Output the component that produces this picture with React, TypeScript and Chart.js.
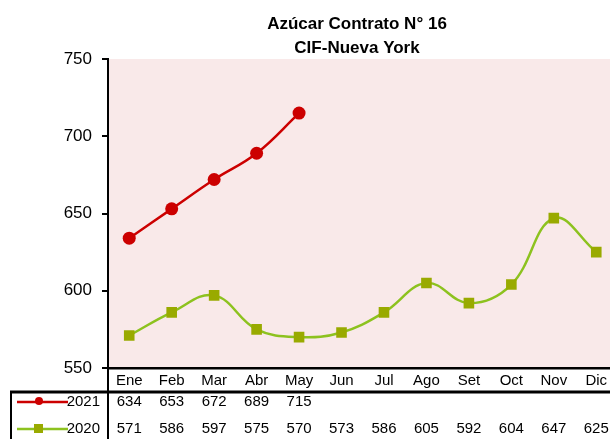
import React, { useEffect, useRef } from "react";
import { Chart, registerables } from "chart.js";

Chart.register(...registerables);

const TITLE_LINES = ["Azúcar Contrato N° 16", "CIF-Nueva York"];
const MONTHS = ["Ene", "Feb", "Mar", "Abr", "May", "Jun", "Jul", "Ago", "Set", "Oct", "Nov", "Dic"];
const SERIES_2021_LABEL = "2021";
const SERIES_2020_LABEL = "2020";
const VALUES_2021 = [634, 653, 672, 689, 715];
const VALUES_2020 = [571, 586, 597, 575, 570, 573, 586, 605, 592, 604, 647, 625];
const Y_MIN = 550;
const Y_MAX = 750;
const Y_STEP = 50;

const NARROW = '"Liberation Sans Narrow", "Arial Narrow", "Liberation Sans", Arial, sans-serif';
const RED = "#CC0000";
const GREEN_LINE = "#8DC21F";
const GREEN_MARK = "#99AA00";
const BG = "#F9E9E9";

export default function App() {
  const ref = useRef<HTMLCanvasElement | null>(null);

  useEffect(() => {
    const canvas = ref.current;
    if (!canvas) return;

    const bgPlugin = {
      id: "bg",
      beforeDraw(chart: any) {
        const { ctx, chartArea } = chart;
        ctx.save();
        ctx.fillStyle = BG;
        ctx.fillRect(chartArea.left, chartArea.top, chartArea.right - chartArea.left, chartArea.bottom - chartArea.top);
        ctx.restore();
      },
    };

    const tablePlugin = {
      id: "table",
      afterDraw(chart: any) {
        const { ctx, chartArea } = chart;
        const xs = chart.scales.x;
        ctx.save();
        // title
        ctx.fillStyle = "#000";
        ctx.font = 'bold 17px "Liberation Sans", Arial, sans-serif';
        ctx.textAlign = "center";
        ctx.textBaseline = "alphabetic";
        TITLE_LINES.forEach((t, i) => ctx.fillText(t, 357, 29 + 24 * i));

        // table lines
        const H = chart.height;
        const sepY = chartArea.bottom + 24;
        ctx.strokeStyle = "#000";
        ctx.lineWidth = 2;
        ctx.beginPath();
        ctx.moveTo(chartArea.left, chartArea.bottom);
        ctx.lineTo(chartArea.left, H);
        ctx.stroke();
        ctx.lineWidth = 3;
        ctx.beginPath();
        ctx.moveTo(10, sepY);
        ctx.lineTo(chart.width, sepY);
        ctx.stroke();
        ctx.lineWidth = 2;
        ctx.beginPath();
        ctx.moveTo(11, sepY);
        ctx.lineTo(11, H);
        ctx.stroke();

        const rows = [
          { label: SERIES_2021_LABEL, values: VALUES_2021, color: RED, y: sepY + 10, shape: "circle" },
          { label: SERIES_2020_LABEL, values: VALUES_2020, color: GREEN_LINE, mark: GREEN_MARK, y: sepY + 37, shape: "rect" },
        ];
        ctx.font = `15px ${NARROW}`;
        ctx.textBaseline = "middle";
        rows.forEach((r: any) => {
          // legend key
          ctx.strokeStyle = r.color;
          ctx.lineWidth = 2.5;
          ctx.beginPath();
          ctx.moveTo(17, r.y);
          ctx.lineTo(68, r.y);
          ctx.stroke();
          if (r.shape === "circle") {
            ctx.fillStyle = r.color;
            ctx.beginPath();
            ctx.arc(39, r.y - 1, 4, 0, Math.PI * 2);
            ctx.fill();
          } else {
            ctx.fillStyle = r.mark;
            ctx.fillRect(34, r.y - 5, 9, 9);
          }
          ctx.fillStyle = "#000";
          ctx.textAlign = "right";
          ctx.fillText(r.label, 100, r.y);
          ctx.textAlign = "center";
          r.values.forEach((v: number, i: number) => {
            ctx.fillText(String(v), xs.getPixelForValue(i), r.y);
          });
        });
        ctx.restore();
      },
    };

    const chart = new Chart(canvas, {
      type: "line",
      data: {
        labels: MONTHS,
        datasets: [
          {
            label: SERIES_2021_LABEL,
            data: VALUES_2021,
            borderColor: RED,
            backgroundColor: RED,
            borderWidth: 2.5,
            pointStyle: "circle",
            pointRadius: 6.5,
            pointBackgroundColor: RED,
            pointBorderWidth: 0,
            tension: 0.4,
          },
          {
            label: SERIES_2020_LABEL,
            data: VALUES_2020,
            borderColor: GREEN_LINE,
            backgroundColor: GREEN_MARK,
            borderWidth: 2.5,
            pointStyle: "rect",
            pointRadius: 7.5,
            pointBackgroundColor: GREEN_MARK,
            pointBorderWidth: 0,
            tension: 0.4,
          },
        ],
      },
      options: {
        animation: false,
        responsive: false,
        devicePixelRatio: 1,
        layout: { padding: { left: 0, top: 59, right: 7, bottom: 0 } },
        plugins: {
          legend: { display: false },
          title: { display: false },
          tooltip: { enabled: false },
        },
        scales: {
          x: {
            type: "category",
            offset: true,
            grid: { display: true, drawOnChartArea: false, drawTicks: false },
            border: { display: true, color: "#000", width: 2.5 },
            ticks: { color: "#000", font: { family: NARROW, size: 15 }, padding: 4, maxRotation: 0, autoSkip: false },
            afterFit: (s: any) => { s.height = 71; },
          },
          y: {
            min: Y_MIN,
            max: Y_MAX,
            grid: { display: true, drawOnChartArea: false, drawTicks: true, tickLength: 6, color: "#000", lineWidth: 2 },
            border: { display: true, color: "#000", width: 2 },
            ticks: { stepSize: Y_STEP, color: "#000", font: { family: NARROW, size: 17 }, padding: 10 },
            afterFit: (s: any) => { s.width = 108; },
          },
        },
      },
      plugins: [bgPlugin, tablePlugin],
    } as any);

    return () => chart.destroy();
  }, []);

  return (
    <div style={{ position: "absolute", left: 0, top: 0, width: 610, height: 439, overflow: "hidden", background: "#fff" }}>
      <canvas ref={ref} width={625} height={439} style={{ display: "block", width: 625, height: 439 }} />
    </div>
  );
}
